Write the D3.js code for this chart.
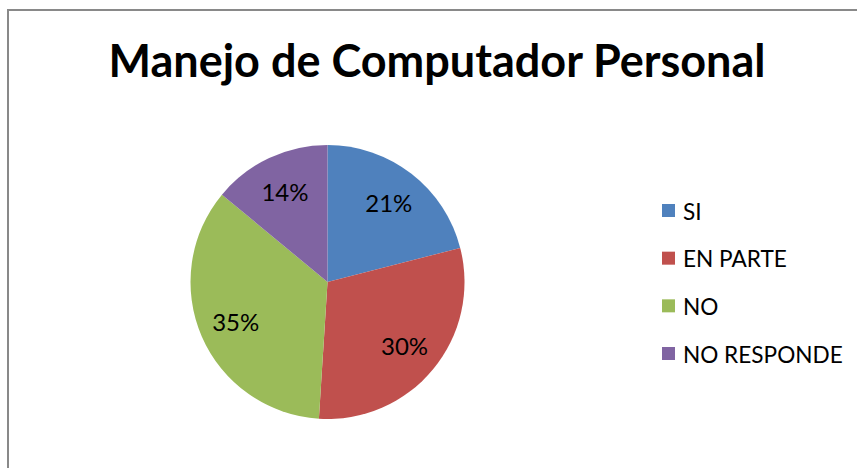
<!DOCTYPE html>
<html>
<head>
<meta charset="utf-8">
<script src="https://cdn.jsdelivr.net/npm/d3@7"></script>
<style>
  html, body { margin: 0; padding: 0; background: #fff; }
  svg { display: block; }
  text { font-family: Lato, "Open Sans", sans-serif; fill: #000; }
</style>
</head>
<body>
<svg id="chart" width="857" height="468"></svg>
<script>
const title = "Manejo de Computador Personal";
const categories = ["SI", "EN PARTE", "NO", "NO RESPONDE"];
const values = [21, 30, 35, 14];
const colors = ["#4F81BD", "#C0504D", "#9BBB59", "#8064A2"];

const svg = d3.select("#chart");
const W = 857, H = 468;

// frame (top and left edges visible; right/bottom outside the crop)
svg.append("rect")
  .attr("x", 8).attr("y", 10)
  .attr("width", W + 10).attr("height", H + 10)
  .attr("fill", "#fff")
  .attr("stroke", "#898989")
  .attr("stroke-width", 2);

svg.append("text")
  .attr("x", 437).attr("y", 77)
  .attr("text-anchor", "middle")
  .attr("font-weight", "bold")
  .attr("font-size", 45)
  .text(title);

const cx = 327.5, cy = 282, r = 137;
const pie = d3.pie().sort(null).value(d => d)(values);
const arc = d3.arc().innerRadius(0).outerRadius(r);
const labelArc = d3.arc().innerRadius(r * 0.73).outerRadius(r * 0.73);
const total = d3.sum(values);

const g = svg.append("g").attr("transform", `translate(${cx},${cy})`);
g.selectAll("path.slice").data(pie).join("path")
  .attr("class", "slice")
  .attr("d", arc)
  .attr("fill", (d, i) => colors[i]);

g.selectAll("text.lbl").data(pie).join("text")
  .attr("class", "lbl")
  .attr("transform", d => `translate(${labelArc.centroid(d)})`)
  .attr("text-anchor", "middle")
  .attr("dominant-baseline", "central")
  .attr("font-size", 24)
  .text(d => Math.round(d.data / total * 100) + "%");

const leg = svg.append("g");
const legY = d3.scalePoint().domain(categories).range([211, 354]);
const rows = leg.selectAll("g").data(categories).join("g")
  .attr("transform", d => `translate(662,${legY(d)})`);
rows.append("rect")
  .attr("x", 0).attr("y", -7).attr("width", 13).attr("height", 13)
  .attr("fill", (d, i) => colors[i]);
rows.append("text")
  .attr("x", 21).attr("y", 0)
  .attr("dominant-baseline", "central")
  .attr("font-size", 22.6)
  .text(d => d);
</script>
</body>
</html>
